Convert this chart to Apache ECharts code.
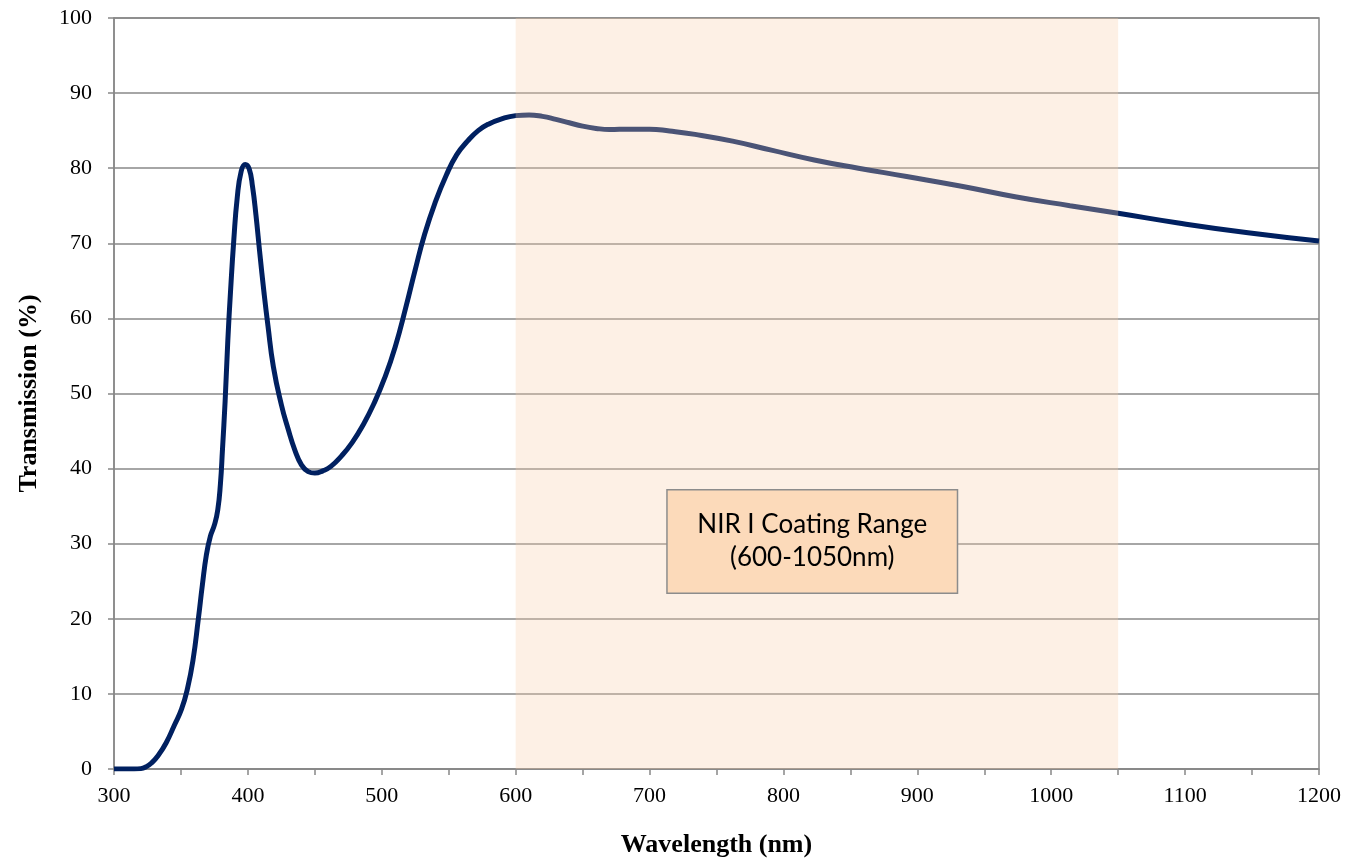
<!DOCTYPE html>
<html>
<head>
<meta charset="utf-8">
<script src="https://cdn.jsdelivr.net/npm/echarts@6/dist/echarts.min.js"></script>
<style>html,body{margin:0;padding:0;background:#fff;}#c{width:1351px;height:863px;}</style>
</head>
<body>
<div id="c"></div>
<script>
const wavelengths = [300,315,320,324,328,333,339,345,350.5,355,359,363,366,369,372,375,377.5,379.5,381,383,385,387,389.5,392,395,398,401,403.5,406,409,412,415,419,425,430,435,440,445,450,456,462,470,478,486,494,502,510,518,525,532,540,548,556,564,572,580,590,600,610,620,630,640,650,660,670,685,700,715,734,762,791,823,856,892,933,973,1014,1050,1095,1147,1200];
const transmission = [0,0,0.05,0.3,0.8,1.8,3.5,5.8,8.0,10.8,14.5,20,24.5,28.5,31,32.5,34.5,38,42.5,49,57,63.5,70.5,76,79.6,80.5,79.9,77.5,73.8,68.5,63.5,59,53.6,48.5,45.3,42.5,40.5,39.6,39.4,39.7,40.3,41.7,43.5,45.8,48.6,52.0,56.2,61.5,66.5,71.2,75.5,79,81.8,83.6,85,85.9,86.6,87,87.1,86.9,86.5,86.05,85.6,85.3,85.15,85.2,85.2,84.95,84.5,83.6,82.4,81.1,80.0,78.9,77.6,76.2,75.0,74.0,72.7,71.4,70.3];
const xTicks = [300,400,500,600,700,800,900,1000,1100,1200];
const yTicks = [0,10,20,30,40,50,60,70,80,90,100];
const rangeStart = 600, rangeEnd = 1050;
const boxLines = ['NIR I Coating Range', '(600-1050nm)'];
const boxX = [713, 930], boxY = [37.2, 23.4];

const serif = '"Liberation Serif", "Times New Roman", serif';
const chart = echarts.init(document.getElementById('c'));
const points = wavelengths.map((w, i) => [w, transmission[i]]);

chart.setOption({
  animation: false,
  backgroundColor: '#fff',
  grid: { left: 114, right: 32, top: 18, bottom: 93, show: true, borderColor: '#888', borderWidth: 1.5, backgroundColor: 'transparent' },
  xAxis: {
    type: 'value', min: 300, max: 1200, interval: 50,
    name: 'Wavelength (nm)', nameLocation: 'middle', nameGap: 63,
    nameTextStyle: { fontFamily: serif, fontWeight: 'bold', fontSize: 26, color: '#000' },
    axisLine: { lineStyle: { color: '#888', width: 1.5 } },
    axisTick: { show: true, inside: false, length: 6, lineStyle: { color: '#888', width: 1.5 } },
    axisLabel: { fontFamily: serif, fontSize: 22, color: '#000', margin: 16,
      formatter: v => xTicks.includes(v) ? String(v) : '' },
    splitLine: { show: false }
  },
  yAxis: {
    type: 'value', min: 0, max: 100, interval: 10,
    name: 'Transmission (%)', nameLocation: 'middle', nameGap: 72,
    nameTextStyle: { fontFamily: serif, fontWeight: 'bold', fontSize: 26, color: '#000' },
    axisLine: { show: true, lineStyle: { color: '#888', width: 1.5 } },
    axisTick: { show: true, inside: false, length: 6, lineStyle: { color: '#888', width: 1.5 } },
    axisLabel: { fontFamily: serif, fontSize: 22, color: '#000', margin: 22,
      formatter: v => yTicks.includes(v) ? String(v) : '' },
    splitLine: { show: true, lineStyle: { color: '#888', width: 1.5 } }
  },
  series: [
    {
      type: 'line', data: points, showSymbol: false, smooth: 0.5,
      lineStyle: { color: '#002060', width: 5 }, z: 2, silent: true
    }
  ]
});

const a1 = chart.convertToPixel({ gridIndex: 0 }, [rangeStart, 100]);
const a2 = chart.convertToPixel({ gridIndex: 0 }, [rangeEnd, 0]);
const p1 = chart.convertToPixel({ gridIndex: 0 }, [boxX[0], boxY[0]]);
const p2 = chart.convertToPixel({ gridIndex: 0 }, [boxX[1], boxY[1]]);
const bw = p2[0] - p1[0], bh = p2[1] - p1[1];
chart.setOption({
  graphic: [
    { type: 'rect', z: 50, silent: true,
      shape: { x: a1[0], y: a1[1], width: a2[0] - a1[0], height: a2[1] - a1[1] },
      style: { fill: 'rgba(247,205,170,0.3)' } },
    { type: 'rect', z: 60, silent: true,
      shape: { x: p1[0], y: p1[1], width: bw, height: bh },
      style: { fill: '#FCDABA', stroke: '#8c8c8c', lineWidth: 1.5 } },
    { type: 'text', z: 61, silent: true,
      style: { x: p1[0] + bw / 2, y: p1[1] + bh / 2, text: boxLines.join('\n'), align: 'center', verticalAlign: 'middle',
        font: '26px Lato, "Open Sans", sans-serif', fill: '#000', lineHeight: 33 } }
  ]
});
</script>
</body>
</html>
